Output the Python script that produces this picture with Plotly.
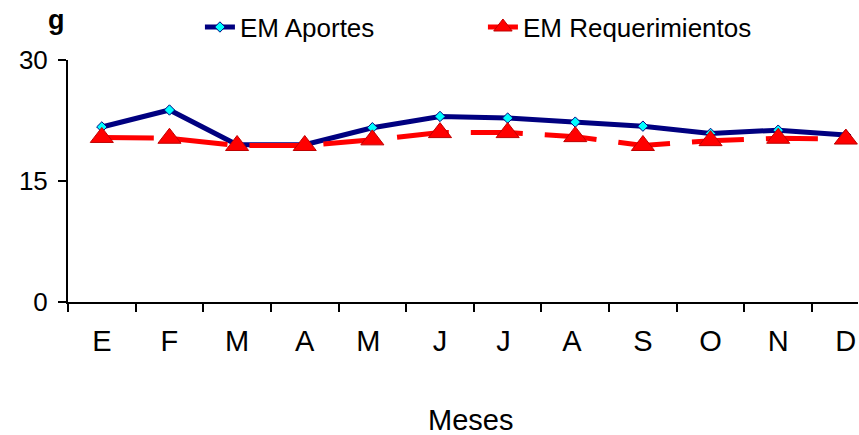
import plotly.graph_objects as go

months = ["E", "F", "M", "A", "M ", "J", "J ", "A ", "S", "O", "N", "D"]
aportes = [21.7, 23.8, 19.5, 19.5, 21.6, 23.0, 22.8, 22.3, 21.8, 20.9, 21.3, 20.7]
requerimientos = [20.4, 20.3, 19.4, 19.4, 20.1, 21.0, 21.0, 20.5, 19.4, 20.0, 20.3, 20.2]
y_ticks = [0, 15, 30]

FONT = "Liberation Sans, Arial, sans-serif"

fig = go.Figure()
fig.add_trace(go.Scatter(
    x=months, y=aportes, name="EM Aportes", mode="lines+markers",
    line=dict(color="#000080", width=5),
    marker=dict(symbol="diamond", size=8, color="#00FFFF",
                line=dict(color="#000080", width=1)),
    cliponaxis=False,
))
fig.add_trace(go.Scatter(
    x=months, y=requerimientos, name="EM Requerimientos", mode="lines+markers",
    line=dict(color="#FF0000", width=5, dash="52px,22px"),
    marker=dict(symbol="triangle-up", size=20, color="#FF0000",
                line=dict(color="#C00000", width=1)),
    cliponaxis=False,
))

fig.update_layout(
    width=859, height=435,
    margin=dict(l=68, r=1, t=60, b=133),
    paper_bgcolor="white", plot_bgcolor="white",
    font=dict(family=FONT, color="black"),
    showlegend=True,
    legend=dict(orientation="h", x=0.167, xanchor="left", y=1.136, yanchor="middle",
                font=dict(size=26, family=FONT), entrywidth=238,
                bgcolor="rgba(0,0,0,0)", traceorder="normal"),
    xaxis=dict(
        type="category", categoryorder="array", categoryarray=months,
        range=[-0.5, 11.18],
        showgrid=False, zeroline=False,
        showline=True, linecolor="black", linewidth=2,
        ticks="outside", tickson="boundaries", ticklen=8, tickwidth=2, tickcolor="black",
        tickfont=dict(size=29, family=FONT), ticklabelstandoff=12,
    ),
    yaxis=dict(
        range=[0, 30], tickvals=y_ticks, ticktext=[str(v) for v in y_ticks],
        showgrid=False, zeroline=False,
        showline=True, linecolor="black", linewidth=2,
        ticks="outside", ticklen=8, tickwidth=2, tickcolor="black",
        tickfont=dict(size=26, family=FONT), ticklabelstandoff=5,
    ),
    annotations=[
        dict(text="Meses", xref="paper", yref="paper", x=0.51, y=-0.488,
             xanchor="center", yanchor="middle", showarrow=False,
             font=dict(size=29, family=FONT)),
        dict(text="<b>g</b>", xref="paper", yref="paper", x=-0.015, y=1.165,
             xanchor="center", yanchor="middle", showarrow=False,
             font=dict(size=27, family=FONT)),
    ],
)

fig.write_html("out.html")
